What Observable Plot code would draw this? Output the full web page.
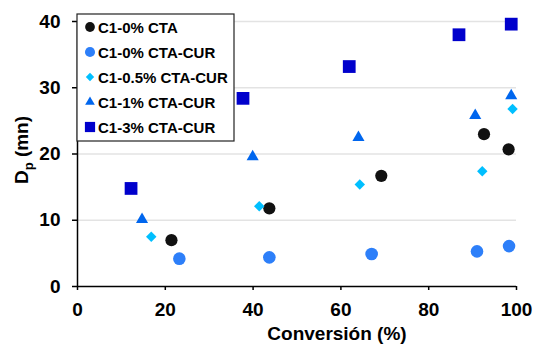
<!DOCTYPE html>
<html>
<head>
<meta charset="utf-8">
<script src="https://cdn.jsdelivr.net/npm/d3@7"></script>
<script src="https://cdn.jsdelivr.net/npm/@observablehq/plot@0.6"></script>
<style>
  html, body { margin: 0; padding: 0; background: #fff; }
  #chart { position: relative; width: 534px; height: 346px; }
</style>
</head>
<body>
<div id="chart"></div>
<script>
// ---- data ----
const series = ["C1-0% CTA", "C1-0% CTA-CUR", "C1-0.5% CTA-CUR", "C1-1% CTA-CUR", "C1-3% CTA-CUR"];
const colors = ["#111111", "#2d7ff9", "#00bfff", "#0066ee", "#0000cc"];
const symbols = ["circle", "circle", "diamond2", "triangle", "square"];
const markerR = [6.1, 6.3, 4.7, 4.5, 7.2];

const cta0X  = [21.4, 43.7, 69.2, 92.6, 98.2];
const cta0Y  = [7.0, 11.8, 16.7, 23.0, 20.7];
const cur0X  = [23.2, 43.7, 67.0, 91.0, 98.3];
const cur0Y  = [4.2, 4.4, 4.9, 5.3, 6.1];
const cur05X = [16.8, 41.4, 64.3, 92.2, 99.1];
const cur05Y = [7.5, 12.1, 15.4, 17.4, 26.8];
const cur1X  = [14.7, 39.9, 64.0, 90.6, 98.8];
const cur1Y  = [10.1, 19.6, 22.5, 25.8, 28.8];
const cur3X  = [12.2, 37.7, 61.9, 86.9, 98.8];
const cur3Y  = [14.8, 28.4, 33.2, 38.0, 39.6];

const xTicks = [0, 20, 40, 60, 80, 100];
const yTicks = [0, 10, 20, 30, 40];
const yGrid = [10, 20, 30, 40];
const xTitle = "Conversión (%)";

// ---- build table ----
const allX = [cta0X, cur0X, cur05X, cur1X, cur3X];
const allY = [cta0Y, cur0Y, cur05Y, cur1Y, cur3Y];
const data = [];
series.forEach((s, i) => {
  allX[i].forEach((x, j) => data.push({series: s, x, y: allY[i][j], r: markerR[i]}));
});

const font = "'Liberation Sans', Arial, sans-serif";

const svg = Plot.plot({
  width: 534,
  height: 346,
  marginLeft: 77,
  marginRight: 18,
  marginTop: 21,
  marginBottom: 60,
  style: {fontFamily: font, fontWeight: "bold", fontSize: "19px", color: "#000", background: "#fff"},
  x: {domain: [0, 100]},
  y: {domain: [0, 40]},
  color: {domain: series, range: colors},
  symbol: {domain: series, range: symbols},
  r: {type: "identity"},
  marks: [
    Plot.gridY(yGrid, {stroke: "#e3e3e3", strokeOpacity: 1, strokeWidth: 1.5}),
    Plot.axisX(xTicks, {tickSize: 4, tickPadding: 12, label: null, fontSize: 19, fontWeight: "bold", strokeWidth: 1.5}),
    Plot.axisY(yTicks, {tickSize: 5, tickPadding: 12, label: null, fontSize: 19, fontWeight: "bold", strokeWidth: 1.5}),
    Plot.ruleY([0], {stroke: "#000", strokeWidth: 1.5}),
    Plot.ruleX([0], {stroke: "#000", strokeWidth: 1.5}),
    Plot.dot(data, {x: "x", y: "y", fill: "series", symbol: "series", r: "r", stroke: "none"})
  ]
});

document.getElementById("chart").appendChild(svg);

const s = d3.select(svg);

// x axis title
s.append("text")
  .attr("x", 337).attr("y", 340)
  .attr("text-anchor", "middle")
  .style("font-family", font).style("font-weight", "bold").style("font-size", "19px")
  .attr("fill", "#000")
  .text(xTitle);

// y axis title with subscript
const yt = s.append("text")
  .attr("transform", "translate(28,150) rotate(-90)")
  .attr("text-anchor", "middle")
  .style("font-family", font).style("font-weight", "bold").style("font-size", "19px")
  .attr("fill", "#000");
yt.append("tspan").text("D");
yt.append("tspan").attr("dy", 5).style("font-size", "13px").text("p");
yt.append("tspan").attr("dy", -5).text(" (mn)");

// legend
const symMap = {circle: d3.symbolCircle, diamond2: d3.symbolDiamond2, triangle: d3.symbolTriangle, square: d3.symbolSquare};
const lg = s.append("g");
lg.append("rect")
  .attr("x", 77).attr("y", 14).attr("width", 157).attr("height", 127)
  .attr("fill", "#fff").attr("stroke", "#222").attr("stroke-width", 1.2);
series.forEach((name, i) => {
  const cy = 27 + i * 25;
  const rr = markerR[i] * 0.8;
  lg.append("path")
    .attr("transform", `translate(90,${cy})`)
    .attr("d", d3.symbol(symMap[symbols[i]], Math.PI * rr * rr)())
    .attr("fill", colors[i]);
  lg.append("text")
    .attr("x", 98).attr("y", cy + 5.5)
    .attr("text-anchor", "start")
    .style("text-anchor", "start")
    .style("font-family", font).style("font-weight", "bold").style("font-size", "15px")
    .attr("fill", "#000")
    .text(name);
});
</script>
</body>
</html>
